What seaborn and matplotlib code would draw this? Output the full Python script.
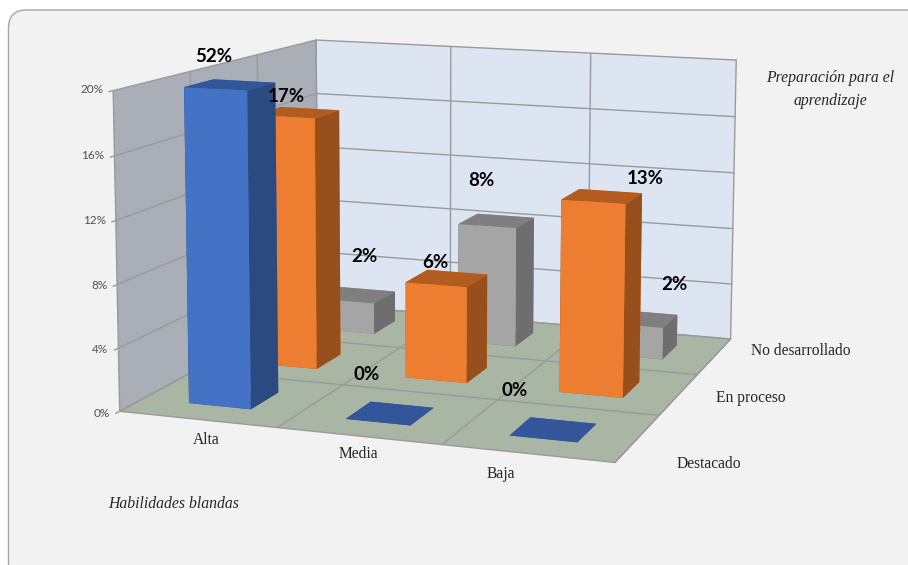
import numpy as np
import seaborn as sns
import matplotlib
matplotlib.use("Agg")
import matplotlib.pyplot as plt
from matplotlib.patches import FancyBboxPatch
from matplotlib.transforms import IdentityTransform
from mpl_toolkits.mplot3d.art3d import Poly3DCollection

# ---------- data ----------
habilidades = ["Alta", "Media", "Baja"]
preparacion = ["Destacado", "En proceso", "No desarrollado"]
destacado = [52, 0, 0]
en_proceso = [16.9, 6.4, 12.6]
no_desarrollado = [2.2, 8.4, 2.2]
z_ticks = [0, 4, 8, 12, 16, 20]

W, H = 908, 565
ZMAX = 20

sns.set_theme(style="white")
fig = plt.figure(figsize=(W / 100, H / 100), dpi=100, facecolor="white")
fig.add_artist(FancyBboxPatch((8.5, -15), 940, 570, transform=IdentityTransform(),
                              boxstyle="round,pad=0,rounding_size=18",
                              fc="#f2f2f2", ec="#a6a6a6", lw=1, zorder=-5))

# camera calibrated on the chart frame: (cat, series, value) -> pixel
frame_3d = [(0,0,0),(1,0,0),(2,0,0),(3,0,0),(3,1,0),(3,2,0),(3,3,0),(0,3,0),(0,0,20),(0,3,20),(1,3,20),(2,3,20),(3,3,20)]
frame_px = [(121,412),(277,428),(442,445),(615,463),(658,415),(697,374),(732,338),(317,304),(113,89),(317,39),(450,48),(590,54),(737,60)]
A = []
for (X, Y, Z), (u, v) in zip(frame_3d, frame_px):
    v = H - v
    A.append([X, Y, Z, 1, 0, 0, 0, 0, -u * X, -u * Y, -u * Z, -u])
    A.append([0, 0, 0, 0, X, Y, Z, 1, -v * X, -v * Y, -v * Z, -v])
P = np.linalg.svd(np.array(A, float))[2][-1].reshape(3, 4)
if P[2] @ np.array([1.5, 1.5, 0, 1]) < 0:
    P = -P
P = P / (P[2] @ np.array([1.5, 1.5, 0, 1]))

ax = fig.add_axes([0, 0, 1, 1], projection="3d", computed_zorder=False)
ax.apply_aspect = lambda position=None: None
ax.set_xticks([])
ax.set_yticks([])
ax.set_zticks([])
ax.set_axis_off()
ax.patch.set_alpha(0)

def camera():
    inv = np.linalg.inv(ax.transData.get_affine().get_matrix())
    Q = inv @ P
    return np.array([Q[0], Q[1], [0, 0, 0, -1], Q[2]])
ax.get_proj = camera

def quad(pts, color, z):
    ax.add_collection3d(Poly3DCollection([pts], facecolors=color, edgecolors="none", linewidths=0, zorder=z))

# walls and floor
quad([(0,3,0),(3,3,0),(3,3,ZMAX),(0,3,ZMAX)], "#dde5f3", 1)
quad([(0,0,0),(0,3,0),(0,3,ZMAX),(0,0,ZMAX)], "#aaaeb7", 1)
quad([(0,0,0),(3,0,0),(3,3,0),(0,3,0)], "#a9b6a3", 1)

grid = dict(color="#9a9a9a", lw=1, zorder=2)
for t in z_ticks:
    ax.plot([0, 0, 0, 3], [-0.05, 0, 3, 3], [t, t, t, t], **grid)
for i in range(4):
    ax.plot([i, i], [3, 3], [0, ZMAX], **grid)
    ax.plot([0, 0], [i, i], [0, ZMAX], **grid)
    ax.plot([i, i], [0, 3], [0, 0], **grid)
    ax.plot([0, 3], [i, i], [0, 0], **grid)
ax.plot([3, 3], [0, 3], [0, 0], **grid)

palette = [("#4472c4", "#2a4a80", "#325699"), ("#ed7d31", "#97501c", "#b35c20"), ("#a5a5a5", "#6e6e6e", "#7f7f7f")]
series = [destacado, en_proceso, no_desarrollado]
GAP = 0.3
order = 10
for j in range(2, -1, -1):
    for i in range(3):
        front, side, top = palette[j]
        h = min(series[j][i], ZMAX)
        ax.bar3d(i + GAP, j + GAP, 0, 1 - 2 * GAP, 1 - 2 * GAP, h,
                 color=[top, top, front, front, side, side], edgecolor="none", linewidth=0,
                 shade=False, zorder=order)
        order += 1

def label(px, py, s, **kw):
    fig.text(px / W, 1 - py / H, s, **kw)

# z tick labels, placed through the same camera as the frame
for t in z_ticks:
    q = P @ np.array([0, -0.12, t + 0.2, 1])
    label(q[0] / q[2], H - q[1] / q[2], f"{t}%", ha="right", va="center", fontsize=8.5, family="Lato", color="#505050")

serif = dict(family="Liberation Serif", color="#262626", fontsize=11.2)
for s, pos in zip(habilidades, [(206, 440.5), (358, 454), (501, 474.5)]):
    label(*pos, s, ha="center", va="center", **serif)
for s, pos in zip(preparacion, [(677, 464.5), (716, 398), (751, 351)]):
    label(*pos, s, ha="left", va="center", **serif)

ital = dict(family="Liberation Serif", style="italic", color="#262626", fontsize=11.3)
label(108, 504, "Habilidades blandas", ha="left", va="center", **ital)
label(830, 89.5, "Preparación para el\naprendizaje", ha="center", va="center", linespacing=1.6, **ital)

# value labels
label_pos = [
    [(213.5, 56), (367, 374), (515, 391)],
    [(286.5, 97), (435, 263), (645, 178)],
    [(364, 257), (481, 181), (674, 284)],
]
for vals, poss in zip(series, label_pos):
    for v, pos in zip(vals, poss):
        label(*pos, f"{v:.0f}%", ha="center", va="center", family="Lato", weight="bold", fontsize=13.5, color="black")

fig.savefig("out.png", dpi=100)
